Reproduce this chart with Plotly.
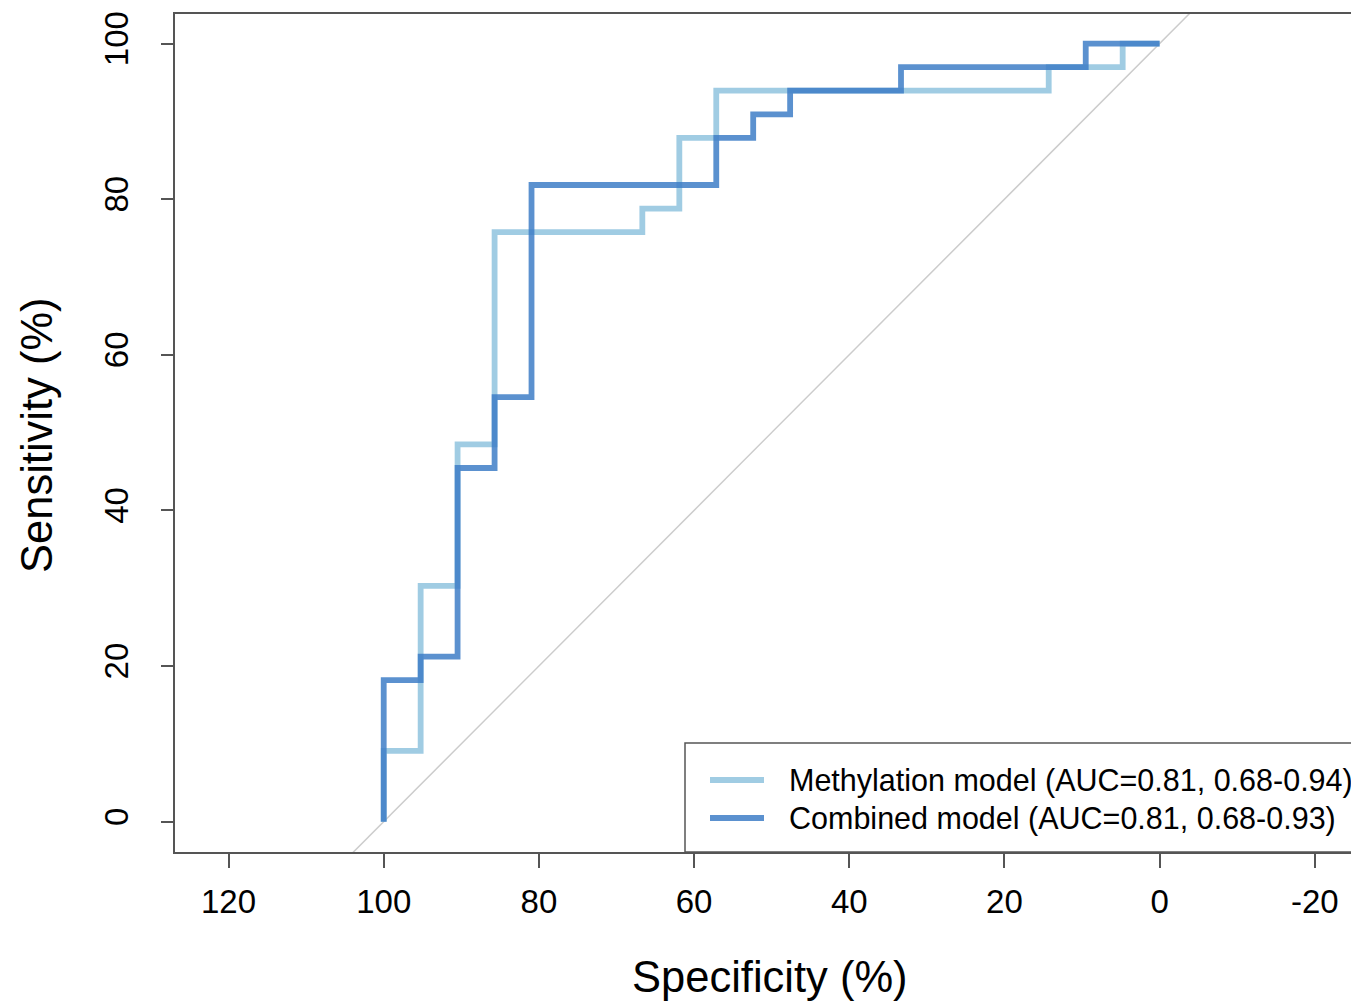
import plotly.graph_objects as go

# ROC coordinates (specificity %, sensitivity %)
meth_spec = [100, 100, 95.24, 95.24, 90.48, 90.48, 85.71, 85.71, 66.67, 66.67,
             61.90, 61.90, 57.14, 57.14, 14.29, 14.29, 4.76, 4.76, 0]
meth_sens = [0, 9.09, 9.09, 30.30, 30.30, 48.48, 48.48, 75.76, 75.76, 78.79,
             78.79, 87.88, 87.88, 93.94, 93.94, 96.97, 96.97, 100, 100]

comb_spec = [100, 100, 95.24, 95.24, 90.48, 90.48, 85.71, 85.71, 80.95, 80.95,
             57.14, 57.14, 52.38, 52.38, 47.62, 47.62, 33.33, 33.33, 9.52, 9.52, 0]
comb_sens = [0, 18.18, 18.18, 21.21, 21.21, 45.45, 45.45, 54.55, 54.55, 81.82,
             81.82, 87.88, 87.88, 90.91, 90.91, 93.94, 93.94, 96.97, 96.97, 100, 100]

diag_spec = [140, -40]
diag_sens = [-40, 140]

legend_labels = ["Methylation model (AUC=0.81, 0.68-0.94)",
                 "Combined model (AUC=0.81, 0.68-0.93)"]
x_ticks = [120, 100, 80, 60, 40, 20, 0, -20]
y_ticks = [0, 20, 40, 60, 80, 100]

C_METH = "rgba(150,198,224,0.9)"
C_COMB = "rgba(60,124,198,0.84)"
FONT = "Liberation Sans, Arial, sans-serif"
AX = "#555555"

OFF = 8  # page body margin
W, H = 1359 - OFF, 1005 - OFF
L, T = 175 - OFF, 14 - OFF
R = 0
B = H - (852 - OFF)
pw, ph = W - L - R, H - T - B

def px2paper(x, y):
    x -= OFF
    y -= OFF
    return (x - L) / pw, (H - B - y) / ph

fig = go.Figure()
fig.add_trace(go.Scatter(x=diag_spec, y=diag_sens, mode="lines",
                         line=dict(color="#cccccc", width=1.5), hoverinfo="skip"))
fig.add_trace(go.Scatter(x=meth_spec, y=meth_sens, mode="lines",
                         line=dict(color=C_METH, width=5.8), name=legend_labels[0]))
fig.add_trace(go.Scatter(x=comb_spec, y=comb_sens, mode="lines",
                         line=dict(color=C_COMB, width=5.8), name=legend_labels[1]))

shapes = []
annotations = []
# legend box
x0, y1 = px2paper(685, 743)
x1, y0 = px2paper(1375, 852)
shapes.append(dict(type="rect", xref="paper", yref="paper", x0=x0, x1=x1, y0=y0, y1=y1,
                   line=dict(color=AX, width=1.5), fillcolor="white", layer="above"))
for i, (lab, col) in enumerate(zip(legend_labels, [C_METH, C_COMB])):
    ypx = 780 + i * 38
    lx0, ly = px2paper(710, ypx)
    lx1, _ = px2paper(764, ypx)
    shapes.append(dict(type="line", xref="paper", yref="paper", x0=lx0, x1=lx1, y0=ly, y1=ly,
                       line=dict(color=col, width=5.8), layer="above"))
    tx, _ = px2paper(787, ypx)
    annotations.append(dict(text=lab, xref="paper", yref="paper", x=tx, y=ly,
                            xanchor="left", yanchor="middle", showarrow=False,
                            font=dict(family=FONT, size=30.5, color="black")))

# axis titles
tx, ty = px2paper(770, 977)
annotations.append(dict(text="Specificity (%)", xref="paper", yref="paper", x=tx, y=ty,
                        xanchor="center", yanchor="middle", showarrow=False,
                        font=dict(family=FONT, size=43.5, color="black")))
tx, ty = px2paper(37, 435)
annotations.append(dict(text="Sensitivity (%)", xref="paper", yref="paper", x=tx, y=ty,
                        xanchor="center", yanchor="middle", showarrow=False, textangle=-90,
                        font=dict(family=FONT, size=43.5, color="black")))

fig.update_layout(
    width=W, height=H,
    margin=dict(l=L, r=R, t=T, b=B),
    paper_bgcolor="white", plot_bgcolor="white",
    showlegend=False,
    shapes=shapes, annotations=annotations,
    xaxis=dict(range=[126.9, -25.7], tickvals=x_ticks, ticktext=[str(v) for v in x_ticks],
               showgrid=False, zeroline=False, showline=True, linecolor=AX, linewidth=2,
               mirror=True, ticks="outside", ticklen=14, tickwidth=2, tickcolor=AX,
               ticklabelstandoff=5,
               tickfont=dict(family=FONT, size=33, color="black")),
    yaxis=dict(range=[-3.9, 103.8], tickvals=y_ticks, ticktext=[str(v) for v in y_ticks],
               showgrid=False, zeroline=False, showline=True, linecolor=AX, linewidth=2,
               mirror=False, ticks="outside", ticklen=12, tickwidth=2, tickcolor=AX,
               tickangle=-90, ticklabelstandoff=20,
               tickfont=dict(family=FONT, size=33, color="black")),
)

fig.write_html("out.html")
